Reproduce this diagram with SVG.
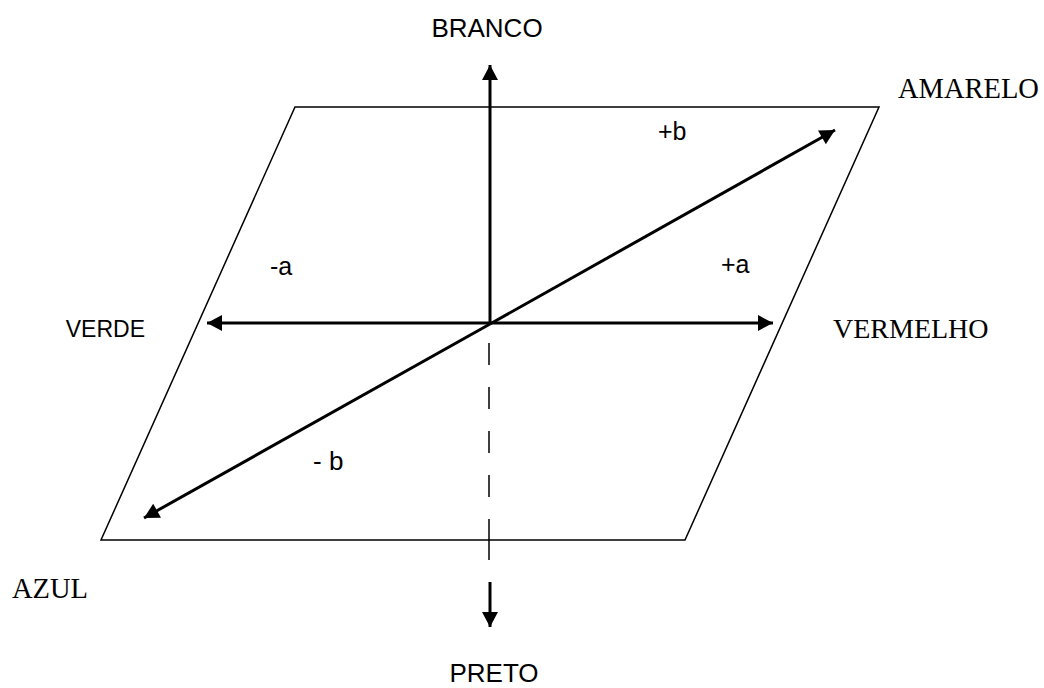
<svg xmlns="http://www.w3.org/2000/svg" width="1044" height="688" viewBox="0 0 1044 688">
<style>
.sans{font-family:"Liberation Sans",Arial,sans-serif;fill:#000}
.serif{font-family:"Liberation Serif","Times New Roman",serif;fill:#000}
.ax{stroke:#000;stroke-width:3;fill:none}
</style>
<defs>
<marker id="ah" markerUnits="userSpaceOnUse" markerWidth="20" markerHeight="20" viewBox="0 0 20 20" refX="18" refY="10" orient="auto">
<path d="M3,2 L18,10 L3,18 Z" fill="#000"/>
</marker>
</defs>
<rect width="1044" height="688" fill="#fff"/>
<g id="plane">
<polygon points="295,107 879,107 685,540 101,540" fill="none" stroke="#000" stroke-width="1.5"/>
</g>
<g id="connectors">
<line class="ax" x1="490" y1="323" x2="490" y2="65" marker-end="url(#ah)"/>
<line class="ax" x1="490" y1="323" x2="207" y2="323" marker-end="url(#ah)"/>
<line class="ax" x1="490" y1="323" x2="773" y2="323" marker-end="url(#ah)"/>
<line class="ax" x1="490" y1="324" x2="835" y2="130" marker-end="url(#ah)"/>
<line class="ax" x1="490" y1="324" x2="144" y2="518" marker-end="url(#ah)"/>
<line x1="489" y1="343" x2="489" y2="519" stroke="#000" stroke-width="1.5" stroke-dasharray="22 22"/>
<line x1="489" y1="519" x2="489" y2="560" stroke="#000" stroke-width="1.5"/>
<line class="ax" x1="490" y1="582" x2="490" y2="627" marker-end="url(#ah)"/>
</g>
<g id="branco"><text class="sans" x="487" y="37" font-size="26" text-anchor="middle">BRANCO</text></g>
<g id="preto"><text class="sans" x="494" y="682" font-size="26" text-anchor="middle">PRETO</text></g>
<g id="verde"><text class="sans" x="145" y="337" font-size="23" text-anchor="end">VERDE</text></g>
<g id="vermelho"><text class="serif" x="833" y="338" font-size="28">VERMELHO</text></g>
<g id="amarelo"><text class="serif" x="898" y="98" font-size="28.5">AMARELO</text></g>
<g id="azul"><text class="serif" x="12" y="598" font-size="28.5">AZUL</text></g>
<g id="minus-a"><text class="sans" x="270" y="275" font-size="25">-a</text></g>
<g id="plus-a"><text class="sans" x="721" y="273" font-size="25">+a</text></g>
<g id="plus-b"><text class="sans" x="658" y="140" font-size="25">+b</text></g>
<g id="minus-b"><text class="sans" x="313" y="470" font-size="26">- b</text></g>
</svg>
